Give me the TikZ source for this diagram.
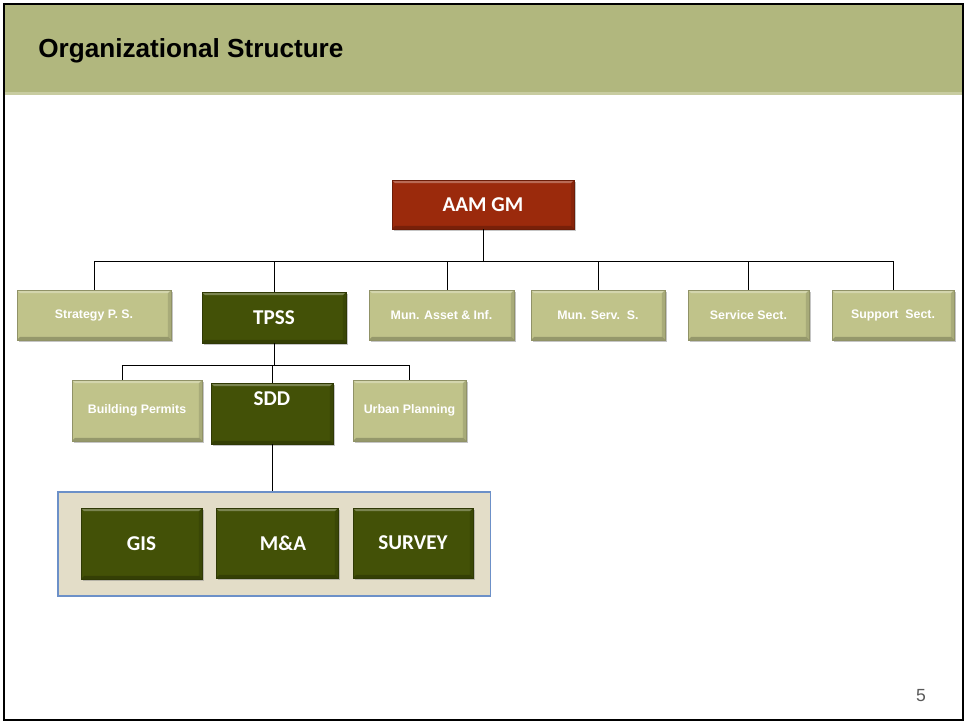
\documentclass[tikz,border=0pt]{standalone}
\usepackage{fontspec}
\usepackage{xcolor}
\usepackage{tikz}
\usetikzlibrary{positioning,calc,shadows}
\newfontfamily\arialfont{Liberation Sans}
\newfontfamily\calfont{Carlito}
\definecolor{headerolive}{RGB}{177,183,126}
\definecolor{headerline}{RGB}{200,204,160}
\definecolor{lightolive}{RGB}{192,195,138}
\definecolor{darkolive}{RGB}{67,81,7}
\definecolor{gmred}{RGB}{155,42,12}
\definecolor{panelbeige}{RGB}{227,221,200}
\definecolor{panelblue}{RGB}{108,144,200}

\begin{document}
\begin{tikzpicture}[
						x=0.025cm, y=-0.025cm,
						% Viền nổi cho hộp (sáng ở trên, tối ở dưới)
						bevel_edge/.style={
							path picture={
								\fill[white, opacity=0.3] (path picture bounding box.north west) -- (path picture bounding box.north east)
									-- ([xshift=-2.2pt, yshift=-2.2pt]path picture bounding box.north east) -- ([xshift=2.2pt, yshift=-2.2pt]path picture bounding box.north west) -- cycle;
								\fill[black, opacity=0.22] (path picture bounding box.south west) -- (path picture bounding box.south east)
									-- ([xshift=-2.2pt, yshift=2.2pt]path picture bounding box.south east) -- ([xshift=2.2pt, yshift=2.2pt]path picture bounding box.south west) -- cycle;
								\fill[black, opacity=0.12] (path picture bounding box.north east) -- (path picture bounding box.south east)
									-- ([xshift=-2.2pt, yshift=2.2pt]path picture bounding box.south east) -- ([xshift=-2.2pt, yshift=-2.2pt]path picture bounding box.north east) -- cycle;
							}
						},
						% Hộp phòng ban (màu ô liu nhạt)
						unit_box/.style={
							rectangle, fill=lightolive, draw=lightolive!75!black, bevel_edge,
							drop shadow={shadow xshift=1.2pt, shadow yshift=-1.5pt, opacity=0.45},
							text=white, font=\arialfont\bfseries\fontsize{8.8}{10}\selectfont,
							inner sep=0pt
						},
						% Hộp bộ phận chính (xanh đậm)
						main_box/.style={
							rectangle, fill=darkolive, draw=darkolive!70!black, bevel_edge,
							drop shadow={shadow xshift=1.2pt, shadow yshift=-1.5pt, opacity=0.45},
							text=white, font=\calfont\bfseries\fontsize{15}{17}\selectfont,
							inner sep=0pt
						},
						% Hộp giám đốc (đỏ)
						gm_box/.style={
							main_box, fill=gmred, draw=gmred!70!black
						},
						% Khung chứa nhóm con
						panel_box/.style={
							rectangle, fill=panelbeige, draw=panelblue, line width=0.8pt
						},
						link/.style={draw=black, line width=0.7pt}
						]
						\useasboundingbox (0,0) rectangle (965,723);
						
						% Khung trang và dải tiêu đề
						\fill[white] (0,0) rectangle (965,723);
						\fill[headerolive] (5,5) rectangle (962,93);
						\fill[headerline] (5,92) rectangle (962,95);
						\draw[black, line width=1.6pt] (4,4) rectangle (963,720);
						\node[anchor=base west, inner sep=0pt, font=\arialfont\bfseries\fontsize{18.6}{22}\selectfont] (title) at (38,57) {Organizational Structure};
						
						% Cấp 1: giám đốc
						\node[gm_box, minimum width=4.55cm, minimum height=1.225cm] (gm) at (483,204.5) {AAM GM};
						
						% Cấp 2
						\node[unit_box, minimum width=3.85cm, minimum height=1.25cm] (strat) at (94,315) {Strategy P. S.};
						\node[main_box, minimum width=3.6cm, minimum height=1.275cm] (tpss) at (274,317.5) {TPSS};
						\node[unit_box, minimum width=3.625cm, minimum height=1.25cm] (muna) at (441.5,315) {Mun. Asset \& Inf.};
						\node[unit_box, minimum width=3.35cm, minimum height=1.25cm] (muns) at (598,315) {Mun. Serv.\ \ S.};
						\node[unit_box, minimum width=3.025cm, minimum height=1.25cm] (serv) at (748.5,315) {Service Sect.};
						\node[unit_box, minimum width=3.05cm, minimum height=1.25cm] (supp) at (893,315) {Support\ \ Sect.};
						
						% Cấp 3: dưới TPSS
						\node[unit_box, minimum width=3.25cm, minimum height=1.525cm] (bp) at (137,410.5) {Building Permits};
						\node[main_box, minimum width=3.05cm, minimum height=1.525cm] (sdd) at (272,413.5) {\raisebox{0.2cm}[0pt][0pt]{SDD}};
						\node[unit_box, minimum width=2.825cm, minimum height=1.525cm] (up) at (409.5,410.5) {Urban Planning};
						
						% Nhóm con của SDD
						\node[panel_box, minimum width=10.8cm, minimum height=2.6cm] (panel) at (274,544) {};
						\node[main_box, minimum width=3.025cm, minimum height=1.775cm] (gis) at (141.5,543.5) {GIS};
						\node[main_box, minimum width=3.05cm, minimum height=1.75cm] (ma) at (277,543) {\hspace*{0.3cm}M\&A};
						\node[main_box, minimum width=3.0cm, minimum height=1.75cm] (survey) at (413,543) {SURVEY};
						
						% Đường nối cấp 1 -> cấp 2
						\coordinate (bus1) at (483,261);
						\draw[link] (gm.south) -- (bus1);
						\draw[link] (bus1 -| strat.north) -- (bus1 -| supp.north);
						\foreach \n in {strat,tpss,muns,serv,supp}
							\draw[link] (bus1 -| \n.north) -- (\n.north);
						\draw[link] ([xshift=0.14cm]muna.north |- bus1) -- ([xshift=0.14cm]muna.north);
						
						% Đường nối TPSS -> cấp 3
						\coordinate (bus2) at (274,365);
						\draw[link] (tpss.south) -- (bus2 -| tpss.south) -- (bus2 -| sdd.north);
						\draw[link] (bus2 -| sdd.north) -- (sdd.north);
						\draw[link] ([xshift=-0.375cm]bp.north |- bus2) -- (bus2 -| up.north);
						\draw[link] ([xshift=-0.375cm]bp.north |- bus2) -- ([xshift=-0.375cm]bp.north);
						\draw[link] (bus2 -| up.north) -- (up.north);
						
						% SDD -> khung nhóm con
						\draw[link] (sdd.south) -- (sdd.south |- panel.north);
						
						% Số trang
						\node[font=\arialfont\fontsize{12.5}{14}\selectfont, text=black!65, inner sep=0pt] (pagenum) at (921,696) {5};
						
					\end{tikzpicture}
\end{document}
